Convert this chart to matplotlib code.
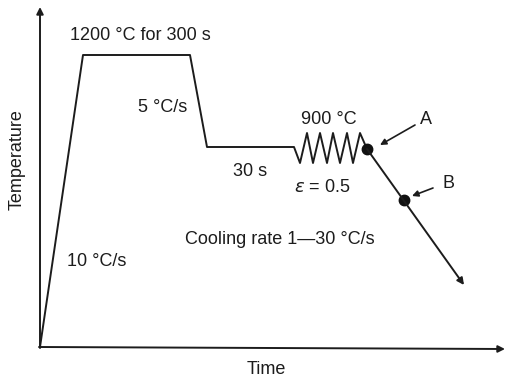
import matplotlib.pyplot as plt

plt.rcParams['font.family'] = ['Liberation Sans', 'DejaVu Sans']

# schematic profile (drawing units, y grows downward)
prof_x = [40, 83, 190, 207, 294, 300, 307, 313, 320, 327, 333, 340, 347, 353, 360, 367]
prof_y = [347, 55, 55, 147, 147, 163, 133, 163, 133, 163, 133, 163, 133, 163, 133, 149]
cool_x = [367, 404, 464]
cool_y = [149, 200, 285]
points_x = [367, 404]
points_y = [149, 200]

labels = [
    ("1200 °C for 300 s", 140, 35),
    ("5 °C/s", 163, 107),
    ("900 °C", 329, 120),
    ("30 s", 250, 172),
    ("$\\varepsilon$ = 0.5", 322, 187),
    ("Cooling rate 1—30 °C/s", 280, 240),
    ("10 °C/s", 97, 262),
]

fig = plt.figure(figsize=(5.05, 3.79), dpi=100)
ax = fig.add_axes([0, 0, 1, 1])
ax.set_xlim(0, 505)
ax.set_ylim(379, 0)
ax.axis('off')

ink = '#1c1c1c'

# axes arrows
arr = dict(arrowstyle='-|>', color=ink, lw=1.4, mutation_scale=10,
           shrinkA=0, shrinkB=0)
ax.annotate('', xy=(40, 7), xytext=(40, 348), arrowprops=arr)
ax.annotate('', xy=(505, 349), xytext=(39, 347), arrowprops=arr)

ax.plot(prof_x, prof_y, color=ink, lw=1.4)
ax.annotate('', xy=(cool_x[-1], cool_y[-1]), xytext=(cool_x[0], cool_y[0]),
            arrowprops=dict(arrowstyle='-|>', color=ink, lw=1.4,
                            mutation_scale=10, shrinkA=0, shrinkB=0))
ax.plot(points_x, points_y, 'o', color='#111111', ms=7.5)

# A and B pointers
ax.annotate('', xy=(380, 145), xytext=(415, 125),
            arrowprops=dict(arrowstyle='-|>', color=ink, lw=1.2,
                            mutation_scale=9, shrinkA=0, shrinkB=0))
ax.annotate('', xy=(412, 196), xytext=(433, 188),
            arrowprops=dict(arrowstyle='-|>', color=ink, lw=1.2,
                            mutation_scale=9, shrinkA=0, shrinkB=0))
ax.text(426, 119, 'A', fontsize=13, ha='center', va='center', color=ink)
ax.text(448, 183, 'B', fontsize=13, ha='center', va='center', color=ink)

for s, x, y in labels:
    ax.text(x, y, s, fontsize=13, ha='center', va='center', color=ink)

ax.text(17, 160, 'Temperature', fontsize=13, rotation=90, ha='center',
        va='center', color=ink)
ax.text(266, 369, 'Time', fontsize=13, ha='center', va='center', color=ink)

fig.savefig('out.png', dpi=100)
